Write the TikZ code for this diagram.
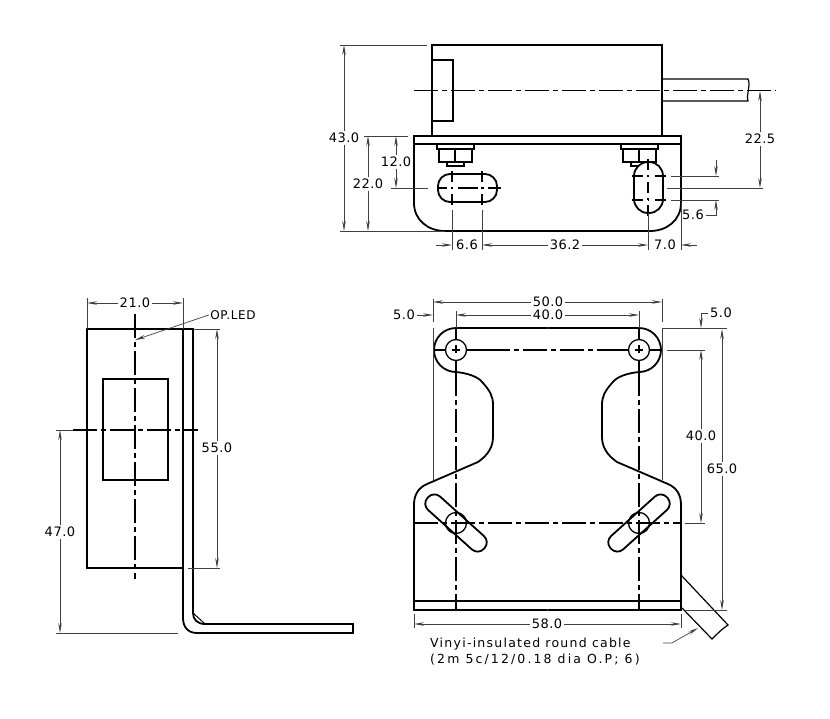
\documentclass[tikz,border=0pt]{standalone}
\usepackage{fontspec}
\setmainfont{DejaVu Sans}
\usetikzlibrary{arrows.meta}

\begin{document}
\begin{tikzpicture}[x=1pt,y=-1pt]
\tikzset{
  part/.style={draw=black,line width=1.8pt},
  axis/.style={draw=black,line width=1.6pt,dash pattern=on 24pt off 4pt on 5pt off 4pt},
  holemark/.style={draw=black,line width=1.5pt,dash pattern=on 11pt off 5pt on 1.5pt off 5.5pt},
  ext/.style={draw=black!75,line width=0.7pt},
  dimline/.style={ext,-{Stealth[length=10pt,width=3.5pt]}},
  dimtext/.style={inner sep=1.5pt,font=\fontsize{13}{15}\selectfont\addfontfeature{LetterSpace=4}},
  notetext/.style={inner sep=0pt,anchor=west,font=\fontsize{12.5}{14}\selectfont\addfontfeature{LetterSpace=10}}
};
\useasboundingbox (0,0) rectangle (830,718);

% side view, top right
\draw[part] (432,136) -- (432,45) -- (662,45) -- (662,136);
\draw[part] (432,60) -- (453,60) -- (453,121) -- (432,121);
\draw[part,line width=1.2pt] (662,79) -- (748,79) .. controls (751,85) and (746,95) .. (748,101) -- (662,101);
\draw[part] (414,136) rectangle (681,144);
\draw[part] (414,144) -- (414,203) .. controls (414,220) and (428,231) .. (445,231) -- (650,231) .. controls (667,231) and (681,220) .. (681,203) -- (681,144);
% nuts
\foreach \nutx in {0,184}{
  \draw[part,line width=1.3pt,xshift=\nutx pt] (437,144) rectangle (474,149);
  \draw[part,line width=1.3pt,xshift=\nutx pt] (439,149) rectangle (472,162);
  \draw[part,line width=1.3pt,xshift=\nutx pt] (455,149) -- (455,162);
  \draw[part,line width=1.3pt,xshift=\nutx pt] (447,162) rectangle (464,166);
}
\draw[part,rounded corners=12pt] (438,174) rectangle (497,202);
\draw[part,fill=white,rounded corners=14pt] (634,162) rectangle (663,213);
\draw[axis] (414,90.5) -- (776,90.5);
\draw[holemark,dash pattern=on 10pt off 4.5pt on 1.5pt off 4.5pt on 20pt off 4.5pt on 1.5pt off 4.5pt on 14pt] (437,188) -- (501,188);
\draw[holemark] (452,171) -- (452,206);
\draw[holemark] (482,171) -- (482,206);
\draw[holemark] (631.5,176) -- (667,176);
\draw[holemark] (631.5,200) -- (667,200);
\draw[holemark] (648,159) -- (648,218);

% dimensions of the side view
\draw[ext] (340,45) -- (427,45);
\draw[ext] (340,231) -- (445,231);
\draw[ext] (364,136) -- (408,136);
\draw[ext] (391,188) -- (428,188);
\draw[ext] (667,188) -- (763,188);
\draw[ext] (671,176) -- (719,176);
\draw[ext] (671,200) -- (719,200);
\draw[ext] (452,210) -- (452,250);
\draw[ext] (482,210) -- (482,250);
\draw[ext] (648,213) -- (648,250);
\draw[ext] (681,203) -- (681,250);

\node[dimtext] (d430) at (344,138) {43.0};
\coordinate (d430a) at (344,45);
\coordinate (d430b) at (344,231);
\draw[dimline] (d430) -- (d430a);
\draw[dimline] (d430) -- (d430b);
\node[dimtext] (d220) at (368,184) {22.0};
\coordinate (d220a) at (368,136);
\coordinate (d220b) at (368,231);
\draw[dimline] (d220) -- (d220a);
\draw[dimline] (d220) -- (d220b);
\node[dimtext] (d120) at (396,162) {12.0};
\coordinate (d120a) at (396,136);
\coordinate (d120b) at (396,188);
\draw[dimline] (d120) -- (d120a);
\draw[dimline] (d120) -- (d120b);
\node[dimtext] (d225) at (760,139) {22.5};
\coordinate (d225a) at (760,91);
\coordinate (d225b) at (760,188);
\draw[dimline] (d225) -- (d225a);
\draw[dimline] (d225) -- (d225b);
\node[dimtext] (d56) at (693,215) {5.6};
\coordinate (d56a) at (716,160);
\coordinate (d56b) at (716,176);
\coordinate (d56c) at (716,200);
\draw[dimline] (d56a) -- (d56b);
\draw[dimline] (d56) -- (716,215) -- (d56c);
\node[dimtext] (d66) at (467,245) {6.6};
\coordinate (d66a) at (436,245);
\coordinate (d66b) at (452,245);
\coordinate (d66c) at (482,245);
\draw[dimline] (d66a) -- (d66b);
\node[dimtext] (d362) at (565,245) {36.2};
\coordinate (d362a) at (648,245);
\draw[dimline] (d362) -- (d66c);
\draw[dimline] (d362) -- (d362a);
\node[dimtext] (d70) at (665,245) {7.0};
\coordinate (d70a) at (697,245);
\coordinate (d70b) at (681,245);
\draw[dimline] (d70a) -- (d70b);

% end view, bottom left
\draw[part] (183,329) -- (87,329) -- (87,568) -- (183,568);
\draw[part] (103,379) rectangle (168,480);
\draw[part] (183,329) -- (193,329) -- (193,613) .. controls (193,619) and (197,624) .. (205,624) -- (353,624) -- (353,633) -- (197,633) .. controls (188,633) and (183,627) .. (183,618) -- cycle;
\draw[part,line width=1pt] (193,613) -- (205,624);
\draw[axis] (135,314) -- (135,579);
\draw[axis] (73,430) -- (198,430);

\draw[ext] (87,298) -- (87,329);
\draw[ext] (183,298) -- (183,329);
\draw[ext] (193,329) -- (220,329);
\draw[ext] (188,568) -- (220,568);
\draw[ext] (56,430) -- (73,430);
\draw[ext] (56,633) -- (178,633);

\node[dimtext] (d210) at (135,303) {21.0};
\coordinate (d210a) at (87,303);
\coordinate (d210b) at (183,303);
\draw[dimline] (d210) -- (d210a);
\draw[dimline] (d210) -- (d210b);
\node[dimtext] (d550) at (217,448) {55.0};
\coordinate (d550a) at (217,329);
\coordinate (d550b) at (217,568);
\draw[dimline] (d550) -- (d550a);
\draw[dimline] (d550) -- (d550b);
\node[dimtext] (d470) at (60,532) {47.0};
\coordinate (d470a) at (60,430);
\coordinate (d470b) at (60,633);
\draw[dimline] (d470) -- (d470a);
\draw[dimline] (d470) -- (d470b);
\node[dimtext,font=\fontsize{12}{14}\selectfont\addfontfeature{LetterSpace=5}] (opled) at (233,315) {OP.LED};
\coordinate (opleda) at (135,340);
\draw[dimline] (opled.west) -- (opleda);

% plan view, bottom right
\foreach \flip/\move in {1/0,-1/1095}{
\begin{scope}[shift={(\move,0)},xscale=\flip]
  \draw[part] (547.5,328) -- (456,328) arc[start angle=90,end angle=270,radius=22pt]
     .. controls (466,373) and (478,376) .. (483,383)
     .. controls (490,391) and (493,396) .. (493,405) -- (493,437)
     .. controls (493,447) and (488,455) .. (478,462) -- (427,484)
     .. controls (418,488) and (414,495) .. (414,505) -- (414,610) -- (547.5,610);
  \draw[part,line width=1.3pt] (456,350) circle[radius=10.5pt];
  \draw[part,line width=1.3pt] (456,523) circle[radius=10.5pt];
  \draw[part] (414,601) -- (547.5,601);
  \draw[part,line width=1.6pt] (456,328) -- (456,340);
  \draw[part,line width=1.6pt] (456,360) -- (456,372);
  \draw[part,line width=1.6pt] (456,345) -- (456,353);
  \draw[part,line width=1.6pt] (452,350) -- (460,350);
  \draw[part,line width=1.6pt] (433,350) -- (446,350);
  \draw[part,line width=1.6pt] (466,350) -- (486,350);
  \draw[axis] (456,372) -- (456,601);
  \draw[part,line width=1.6pt] (456,601) -- (456,610);
\end{scope}
}
\begin{scope}[shift={(456,523)},rotate=-42]
  \draw[part,rounded corners=8.5pt] (-38,-9) rectangle (38,9);
\end{scope}
\begin{scope}[shift={(639,523)},rotate=42]
  \draw[part,rounded corners=8.5pt] (-38,-9) rectangle (38,9);
\end{scope}
\draw[axis] (486,350) -- (609,350);
\draw[axis] (414,523) -- (681,523);
% cable
\draw[part,line width=1.2pt] (681,575) -- (728,625) .. controls (722,629) and (718,633) .. (712,639) -- (682,608);

\draw[ext] (433,299) -- (433,322);
\draw[ext] (662,299) -- (662,322);
\draw[ext] (456,311) -- (456,328);
\draw[ext] (639,311) -- (639,328);
\draw[ext] (433,328) -- (433,480);
\draw[ext] (662,328) -- (662,480);
\draw[ext] (662,328) -- (727,328);
\draw[ext] (667,350) -- (705,350);
\draw[ext] (685,523) -- (705,523);
\draw[ext] (685,610) -- (727,610);
\draw[ext] (414,614) -- (414,628);
\draw[ext] (681,614) -- (681,628);

\node[dimtext] (d500) at (548,302) {50.0};
\coordinate (d500a) at (433,302);
\coordinate (d500b) at (662,302);
\draw[dimline] (d500) -- (d500a);
\draw[dimline] (d500) -- (d500b);
\node[dimtext] (d400) at (548,315) {40.0};
\coordinate (d400a) at (456,315);
\coordinate (d400b) at (639,315);
\draw[dimline] (d400) -- (d400a);
\draw[dimline] (d400) -- (d400b);
\node[dimtext] (d50l) at (404,315) {5.0};
\coordinate (d50la) at (433,315);
\draw[dimline] (d50l) -- (d50la);
\node[dimtext] (d50r) at (721,313) {5.0};
\coordinate (d50ra) at (701,328);
\draw[dimline] (d50r) -- (701,313) -- (d50ra);
\node[dimtext] (d400v) at (701,436) {40.0};
\coordinate (d400va) at (701,350);
\coordinate (d400vb) at (701,523);
\draw[dimline] (d400v) -- (d400va);
\draw[dimline] (d400v) -- (d400vb);
\node[dimtext] (d650) at (722,469) {65.0};
\coordinate (d650a) at (722,329);
\coordinate (d650b) at (722,610);
\draw[dimline] (d650) -- (d650a);
\draw[dimline] (d650) -- (d650b);
\node[dimtext] (d580) at (547,624) {58.0};
\coordinate (d580a) at (414,624);
\coordinate (d580b) at (681,624);
\draw[dimline] (d580) -- (d580a);
\draw[dimline] (d580) -- (d580b);

\node[notetext] (cablea) at (430,644) {Vinyi-insulated round cable};
\node[notetext,font=\fontsize{12.5}{14}\selectfont\addfontfeature{LetterSpace=17}] (cableb) at (430,660) {(2m 5c/12/0.18 dia O.P; 6)};
\coordinate (cabletip) at (698,628);
\draw[dimline] (663,643) -- (672,643) -- (cabletip);

\end{tikzpicture}
\end{document}
